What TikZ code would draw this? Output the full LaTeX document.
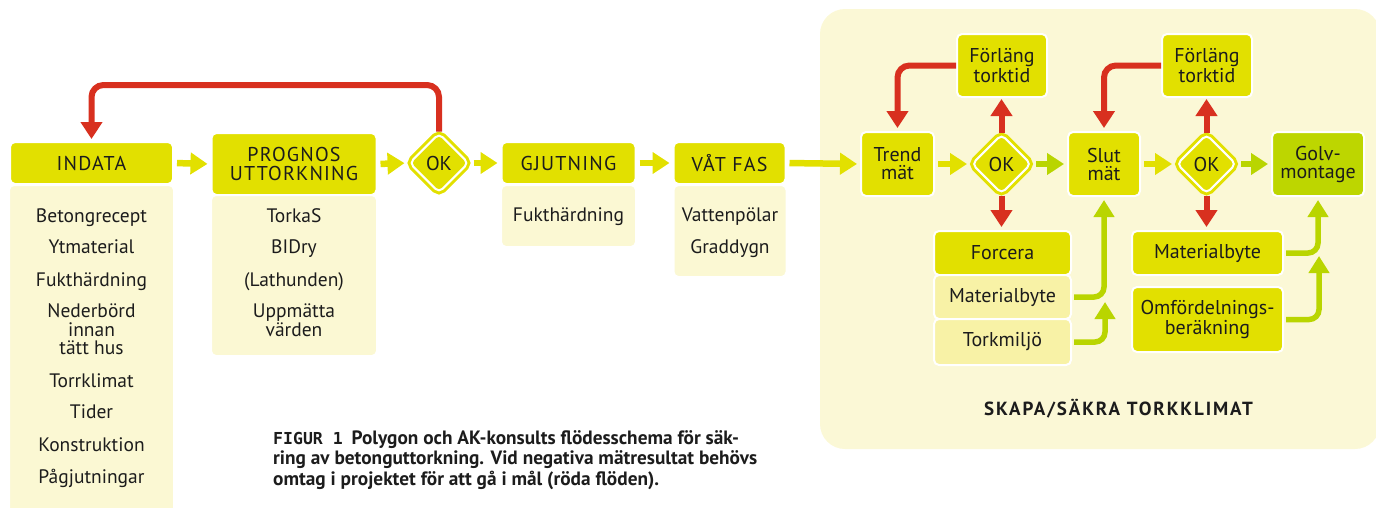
\documentclass[tikz,border=0pt]{standalone}
\usepackage{fontspec}
\setmainfont{PT Sans}
\newfontfamily\hdrfont[LetterSpace=6]{PT Sans}
\newfontfamily\skfont[LetterSpace=10]{PT Sans}
\newfontfamily\capmono{DejaVu Sans Mono}
\usetikzlibrary{arrows.meta,shapes.geometric}
\definecolor{hdrc}{HTML}{E2E000}
\definecolor{bodyc}{HTML}{FBF8D3}
\definecolor{panelc}{HTML}{FBF8D6}
\definecolor{subc}{HTML}{F8F2A6}
\definecolor{golvc}{HTML}{BDD600}
\definecolor{limec}{HTML}{B9D500}
\definecolor{redc}{HTML}{D8301F}
\definecolor{ink}{HTML}{1C1C1C}
\begin{document}
\begin{tikzpicture}[x=1pt,y=-1pt,
  box/.style={draw=white,line width=2pt,rounded corners=5pt,inner sep=0pt,align=center,text=ink},
  hdr/.style={box,fill=hdrc,font=\hdrfont\fontsize{20}{18.5}\selectfont},
  bodyb/.style={draw=white,line width=2pt,rounded corners=5pt,fill=bodyc,inner sep=0pt},
  rbox/.style={box,fill=hdrc,font=\fontsize{20}{18}\selectfont},
  subbox/.style={box,fill=subc,font=\fontsize{20}{18}\selectfont},
  item/.style={font=\fontsize{19.5}{18.5}\selectfont,text=ink,inner sep=0pt,anchor=base},
  okd/.style={diamond,aspect=1,minimum width=60pt,minimum height=60pt,inner sep=0pt,
    fill=hdrc,draw=hdrc,double=white,double distance=2pt,line width=3pt,rounded corners=5pt,
    text=ink,font=\fontsize{20}{20}\selectfont},
  yarr/.style={draw=hdrc,line width=6.5pt,-{Triangle[length=17pt,width=21pt]},shorten <=3pt,shorten >=3pt},
  larr/.style={draw=limec,line width=6.5pt,-{Triangle[length=17pt,width=21pt]},shorten <=3pt,shorten >=3pt},
  lcon/.style={draw=limec,line width=5.5pt,rounded corners=10pt,-{Triangle[length=17pt,width=20pt]}},
  rarr/.style={draw=redc,line width=6pt,rounded corners=12pt,-{Triangle[length=17pt,width=21pt]}},
  capt/.style={font=\bfseries\fontsize{19.3}{20}\selectfont,text=ink,inner sep=0pt,anchor=base west}
]
\useasboundingbox (0,0) rectangle (1376,507);

% panel
\fill[panelc,rounded corners=25pt] (820,9) rectangle (1380,449);

% ---------- left part ----------
\node[bodyb,minimum width=165pt,minimum height=340pt,anchor=north] (indataB) at (91.5,184) {};
\node[hdr,minimum width=163pt,minimum height=42pt] (indata) at (91.5,163) {INDATA};
\node[item] (i1) at (91.5,222) {Betongrecept};
\node[item] (i2) at (91.5,253.5) {Ytmaterial};
\node[item] (i3) at (91.5,286) {Fukthärdning};
\node[item] (i4) at (91.5,317) {Nederbörd};
\node[item] (i5) at (91.5,336) {innan};
\node[item] (i6) at (91.5,354.5) {tätt hus};
\node[item] (i7) at (91.5,387) {Torrklimat};
\node[item] (i8) at (91.5,418) {Tider};
\node[item] (i9) at (91.5,451) {Konstruktion};
\node[item] (i10) at (91.5,483) {Pågjutningar};

\node[bodyb,minimum width=166pt,minimum height=161pt,anchor=north] (progB) at (294,194) {};
\node[hdr,minimum width=165pt,minimum height=62pt] (prog) at (294,164) {PROGNOS\\UTTORKNING};
\node[item] (p1) at (294,222) {TorkaS};
\node[item] (p2) at (294,253.5) {BIDry};
\node[item] (p3) at (294,286) {(Lathunden)};
\node[item] (p4) at (294,317) {Uppmätta};
\node[item] (p5) at (294,336) {värden};

\node[okd] (ok1) at (439,163) {OK};

\node[bodyb,minimum width=135pt,minimum height=62pt,anchor=north] (gjutB) at (568.5,184) {};
\node[hdr,minimum width=134pt,minimum height=42pt] (gjut) at (568.5,163) {GJUTNING};
\node[item] (g1) at (568.5,221.5) {Fukthärdning};

\node[bodyb,minimum width=113pt,minimum height=92pt,anchor=north] (vatB) at (730,184) {};
\node[hdr,minimum width=112pt,minimum height=42pt] (vat) at (729.5,163) {VÅT FAS};
\node[item] (v1) at (730,221.5) {Vattenpölar};
\node[item] (v2) at (730,253) {Graddygn};

% ---------- right part ----------
\node[rbox,minimum width=73pt,minimum height=64pt] (trend) at (897.5,164) {Trend\\mät};
\node[okd] (ok2) at (1001.5,164) {OK};
\node[rbox,minimum width=90pt,minimum height=63pt] (forl1) at (1002,65.5) {Förläng\\torktid};
\node[rbox,minimum width=137pt,minimum height=44pt] (forc) at (1002.5,253) {Forcera};
\node[subbox,minimum width=137pt,minimum height=44pt] (mb1) at (1002.5,297) {Materialbyte};
\node[subbox,minimum width=137pt,minimum height=46pt] (tm) at (1002.5,342) {Torkmiljö};
\node[rbox,minimum width=72pt,minimum height=64pt] (slut) at (1104,164) {Slut\\mät};
\node[okd] (ok3) at (1206.5,164) {OK};
\node[rbox,minimum width=90pt,minimum height=63pt] (forl2) at (1207,65.5) {Förläng\\torktid};
\node[rbox,minimum width=151pt,minimum height=44pt] (mb2) at (1207.5,253) {Materialbyte};
\node[rbox,minimum width=151pt,minimum height=65pt] (omf) at (1207.5,319.5) {Omfördelnings-\\beräkning};
\node[box,fill=golvc,minimum width=92pt,minimum height=64pt,font=\fontsize{20}{18}\selectfont] (golv) at (1318,164) {Golv-\\montage};

\node[font=\skfont\bfseries\fontsize{19}{19}\selectfont,text=ink,inner sep=0pt,anchor=base] (skapa) at (1118.5,415) {SKAPA/SÄKRA TORKKLIMAT};

% ---------- caption ----------
\node[capt] (cap1) at (273,444) {{\capmono\fontsize{16.5}{16.5}\selectfont FIGUR 1}\hspace{9pt}Polygon och AK-konsults flödesschema för säk-};
\node[capt] (cap2) at (273,464.5) {ring av betonguttorkning. Vid negativa mätresultat behövs};
\node[capt] (cap3) at (273,485) {omtag i projektet för att gå i mål (röda flöden).};

% ---------- connectors ----------
\draw[yarr] (indata.east) -- (prog.west);
\draw[yarr] (prog.east) -- (ok1.west);
\draw[yarr] (ok1.east) -- (gjut.west);
\draw[yarr] (gjut.east) -- (vat.west);
\draw[yarr] (vat.east) -- (trend.west);
\draw[yarr] (trend.east) -- (ok2.west);
\draw[larr] (ok2.east) -- (slut.west);
\draw[yarr] (slut.east) -- (ok3.west);
\draw[larr] (ok3.east) -- (golv.west);

\coordinate (loopA) at (439,85);
\draw[rarr,shorten >=2pt] (ok1.north) -- (loopA) -| (indata.north);

\draw[rarr,shorten >=1pt] (ok2.north) -- (ok2.north |- forl1.south);
\draw[rarr,shorten >=3pt] (ok2.south) -- (ok2.south |- forc.north);
\draw[rarr,shorten >=3pt] (forl1.west) -| (trend.north);
\draw[rarr,shorten >=1pt] (ok3.north) -- (ok3.north |- forl2.south);
\draw[rarr,shorten >=3pt] (ok3.south) -- (ok3.south |- mb2.north);
\draw[rarr,shorten >=3pt] (forl2.west) -| (slut.north);

\coordinate (tmEnd) at (1105,302);
\coordinate (omfEnd) at (1319,256);
\draw[lcon,shorten <=2pt,shorten >=3pt] (mb1.east) -| (slut.south);
\draw[lcon,shorten <=2pt] (tm.east) -| (tmEnd);
\draw[lcon,shorten <=2pt,shorten >=3pt] (mb2.east) -| (golv.south);
\draw[lcon,shorten <=2pt] (omf.east) -| (omfEnd);
\end{tikzpicture}
\end{document}
